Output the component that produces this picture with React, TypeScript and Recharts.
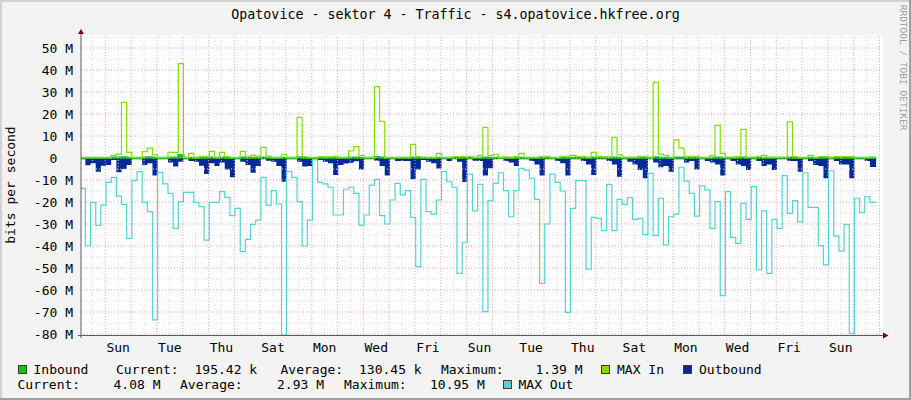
import React from 'react';
import { ComposedChart, Area, Line, XAxis, YAxis, ReferenceLine } from 'recharts';

const FONT = '"DejaVu Sans Mono", monospace';

// ---------- data (Mbit/s), one value per 0.2-day step ----------
const inbound = [
  0.10, 0.12, 0.15, 0.14, 0.10, 0.12, 0.18, 0.20, 0.35, 0.15, 0.10, 0.11, 0.22, 0.30, 0.14, 0.10, 0.10, 0.18, 0.20, 1.39,
  0.12, 0.16, 0.08, 0.12, 0.14, 0.20, 0.10, 0.18, 0.12, 0.10, 0.10, 0.20, 0.12, 0.14, 0.12, 0.25, 0.12, 0.10, 0.10, 0.14,
  0.10, 0.10, 0.30, 0.10, 0.10, 0.08, 0.09, 0.10, 0.10, 0.12, 0.10, 0.10, 0.20, 0.28, 0.12, 0.10, 0.10, 0.40, 0.25, 0.10,
  0.10, 0.10, 0.10, 0.10, 0.25, 0.10, 0.09, 0.06, 0.06, 0.15, 0.10, 0.10, 0.10, 0.10, 0.12, 0.12, 0.10, 0.12, 0.22, 0.12,
  0.14, 0.10, 0.10, 0.06, 0.10, 0.15, 0.10, 0.10, 0.10, 0.12, 0.12, 0.10, 0.10, 0.12, 0.12, 0.14, 0.10, 0.12, 0.10, 0.18,
  0.12, 0.10, 0.10, 0.20, 0.14, 0.10, 0.10, 0.10, 0.12, 0.12, 0.10, 0.35, 0.15, 0.14, 0.10, 0.22, 0.18, 0.12, 0.12, 0.12,
  0.10, 0.10, 0.14, 0.25, 0.16, 0.10, 0.10, 0.10, 0.22, 0.10, 0.10, 0.12, 0.14, 0.10, 0.10, 0.10, 0.10, 0.25, 0.10, 0.10,
  0.10, 0.14, 0.10, 0.10, 0.10, 0.10, 0.10, 0.10, 0.10, 0.10, 0.10, 0.10, 0.10, 0.195,
];

const maxIn = [
  0.2, 0.2, 0.2, 0.2, 0.2, 0.2, 1.2, 1.8, 25.3, 2.6,
  0.2, 0.2, 2.9, 4.5, 1.4, 0.2, 0.2, 2.6, 2.6, 42.9,
  0.2, 2.1, 0.1, 0.8, 0.8, 3.0, 0.2, 2.6, 0.6, 0.2,
  0.2, 3.0, 0.8, 1.2, 0.9, 4.8, 0.9, 0.2, 0.2, 1.7,
  0.2, 0.2, 18.5, 0.6, 0.2, 0.2, 0.5, 0.5, 0.5, 0.8,
  0.2, 0.2, 3.3, 5.2, 1.1, 0.2, 0.2, 32.4, 16.7, 0.2,
  0.2, 0.2, 0.2, 0.2, 6.2, 0.6, 0.3, 0.1, 0.1, 2.1,
  0.2, 0.2, 0.6, 0.6, 0.8, 0.8, 0.2, 1.2, 13.9, 1.1,
  1.7, 0.2, 0.5, 0.1, 0.6, 2.1, 0.2, 0.2, 0.2, 0.8,
  0.8, 0.2, 0.2, 0.8, 0.8, 1.2, 0.6, 0.8, 0.2, 2.6,
  0.8, 0.5, 0.5, 9.4, 1.4, 0.3, 0.3, 0.3, 0.8, 0.8,
  0.2, 34.4, 1.8, 1.2, 0.2, 8.2, 4.5, 0.8, 0.8, 0.8,
  0.2, 0.2, 1.2, 14.8, 2.1, 0.3, 0.3, 0.6, 13.0, 0.3,
  0.3, 0.8, 1.2, 0.3, 0.3, 0.3, 0.3, 16.4, 0.6, 0.2,
  0.2, 1.2, 0.2, 0.6, 0.6, 0.2, 0.6, 0.6, 0.6, 0.6,
  0.2, 0.2, 0.2, 0.2,
];

const outbound = [
  -0.6, -3.3, -2.4, -6.2, -3.5, -3.2, -0.9, -6.5, -5.0, -3.2,
  -0.6, -0.6, -3.2, -2.4, -8.0, -0.6, -0.6, -2.0, -3.9, -1.7,
  -0.6, -1.4, -1.7, -3.5, -7.3, -2.4, -3.6, -2.1, -5.2, -8.8,
  -0.6, -1.7, -3.2, -6.7, -3.6, -0.6, -1.2, -1.7, -3.6, -10.8,
  -0.6, -0.6, -1.7, -3.9, -3.6, -0.6, -0.9, -1.7, -2.4, -7.7,
  -3.2, -2.5, -2.2, -1.5, -5.2, -0.6, -0.6, -1.2, -3.6, -8.0,
  -0.6, -1.4, -1.4, -1.4, -9.7, -5.2, -0.9, -1.7, -2.4, -4.8,
  -0.6, -1.4, -0.6, -1.7, -10.9, -0.6, -1.2, -1.4, -7.9, -4.7,
  -0.6, -0.5, -1.4, -2.1, -3.6, -0.6, -0.6, -1.4, -2.9, -7.9,
  -0.6, -0.6, -1.4, -2.4, -7.9, -0.6, -0.6, -1.4, -2.9, -7.7,
  -0.6, -0.6, -1.4, -2.9, -8.5, -0.6, -1.7, -3.0, -5.5, -9.2,
  -0.6, -2.1, -4.2, -3.6, -6.2, -0.6, -0.6, -2.1, -1.4, -5.2,
  -0.6, -1.4, -2.1, -2.9, -7.9, -0.6, -1.4, -2.9, -3.6, -5.5,
  -0.6, -1.4, -3.6, -2.9, -5.5, -0.6, -0.6, -1.4, -1.4, -6.2,
  -0.6, -1.4, -3.2, -3.6, -9.2, -0.6, -1.4, -2.9, -2.9, -9.2,
  -0.6, -0.6, -1.4, -4.08,
];

const maxOut = [
  -13.8, -40.0, -20.2, -30.6, -21.4, -11.1, -8.8, -17.3, -21.1, -36.5,
  -10.3, -6.2, -20.2, -24.4, -73.6, -6.5, -11.8, -16.1, -32.0, -19.8,
  -15.6, -15.6, -20.2, -22.1, -37.3, -20.2, -20.2, -15.3, -17.9, -26.2,
  -22.9, -42.6, -37.0, -30.2, -28.2, -8.8, -21.4, -14.8, -20.9, -80.5,
  -6.2, -8.8, -19.8, -40.0, -28.2, -0.9, -11.1, -11.8, -13.3, -25.9,
  -25.9, -14.2, -13.3, -16.1, -30.5, -25.9, -12.3, -9.7, -26.2, -30.0,
  -19.1, -11.5, -16.8, -14.8, -27.0, -49.4, -9.7, -24.4, -25.5, -19.1,
  -6.2, -10.8, -13.3, -52.4, -38.3, -7.3, -24.0, -12.0, -69.8, -19.4,
  -11.5, -6.7, -14.8, -26.7, -14.8, -4.7, -5.5, -9.2, -18.8, -57.0,
  -30.0, -7.3, -11.1, -15.0, -70.2, -22.9, -10.3, -10.3, -50.5, -27.0,
  -27.4, -33.0, -12.0, -33.0, -18.8, -21.1, -18.0, -27.9, -27.4, -34.7,
  -7.0, -35.3, -18.3, -39.5, -26.7, -25.5, -4.2, -10.5, -16.1, -26.4,
  -12.7, -14.5, -32.0, -19.8, -62.6, -15.3, -36.1, -38.8, -20.6, -27.9,
  -13.0, -50.9, -24.0, -52.4, -27.9, -32.0, -8.0, -25.2, -19.4, -29.0,
  -6.7, -22.4, -22.4, -39.8, -48.6, -5.8, -35.5, -42.3, -30.2, -79.7,
  -18.3, -24.7, -17.6, -20.2,
];

const dayLabels = ['Sun', 'Tue', 'Thu', 'Sat', 'Mon', 'Wed', 'Fri', 'Sun', 'Tue', 'Thu', 'Sat', 'Mon', 'Wed', 'Fri', 'Sun'];
const yTickValues = [50, 40, 30, 20, 10, 0, -10, -20, -30, -40, -50, -60, -70, -80];
const yMinorValues = [55, 45, 35, 25, 15, 5, -5, -15, -25, -35, -45, -55, -65, -75];

const statLabels = ['Current:', 'Average:', 'Maximum:'];
const inboundStats = ['195.42 k', '130.45 k', '1.39 M'];
const outboundStats = ['4.08 M', '2.93 M', '10.95 M'];
const seriesNames = ['Inbound', 'MAX In', 'Outbound', 'MAX Out'];
const TITLE = 'Opatovice - sektor 4 - Traffic - s4.opatovice.hkfree.org';

// ---------- time axis (days from left edge of graph) ----------
const SPAN_DAYS = 31;
const FIRST_MIDNIGHT = 0.942;
const STEP = 0.2;
const FIRST_STEP = 0.17;
const END_T = 30.81;

const COLORS = {
  inbound: '#00CC00',
  maxIn: '#7FE000',
  outbound: '#002A97',
  maxOut: '#50D4D4',
};

const data = inbound.map((v, k) => ({
  t: k === 0 ? 0 : FIRST_STEP + STEP * (k - 1),
  inb: v,
  maxIn: maxIn[k],
  out: outbound[k],
  maxOut: maxOut[k],
}));
data.push({ ...data[data.length - 1], t: END_T });

const labelTicks = dayLabels.map((_, i) => FIRST_MIDNIGHT + 0.5 + 2 * i);
const majorX = Array.from({ length: 31 }, (_, i) => FIRST_MIDNIGHT + i);
const minorX = Array.from({ length: 31 }, (_, i) => FIRST_MIDNIGHT - 0.5 + i);

const XTick = (props: any) => {
  const { x, payload } = props;
  const idx = Math.round((payload.value - FIRST_MIDNIGHT - 0.5) / 2);
  return (
    <text x={x} y={352} textAnchor="middle" fontFamily={FONT} fontSize={13} fill="#000">
      {dayLabels[idx]}
    </text>
  );
};

const YTick = (props: any) => {
  const { y, payload } = props;
  const v = payload.value;
  return (
    <text x={v === 0 ? 57.3 : 73} y={y} dy={4.7} textAnchor="end" fontFamily={FONT} fontSize={13} fill="#000">
      {v === 0 ? '0' : `${v} M`}
    </text>
  );
};

const Box = ({ x, y, color }: { x: number; y: number; color: string }) => (
  <rect x={x} y={y} width={8} height={8} fill={color} stroke="#3a3a3a" strokeWidth={1} />
);

export default function App() {
  const t = { fontFamily: FONT, fontSize: 13, fill: '#000' } as const;
  return (
    <div style={{ position: 'absolute', left: 0, top: 0, width: 911, height: 400, background: '#F3F3F3', overflow: 'hidden' }}>
      <div style={{ position: 'absolute', left: 81, top: 35, width: 802, height: 300, background: '#FFFFFF' }} />
      <div style={{ position: 'absolute', left: 0, top: 0 }}>
        <ComposedChart
          width={911}
          height={400}
          data={data}
          margin={{ top: 34.8, right: 30, bottom: 34.9, left: 6 }}
        >
          <XAxis
            dataKey="t"
            type="number"
            domain={[0, SPAN_DAYS]}
            ticks={labelTicks}
            interval={0}
            allowDataOverflow
            axisLine={false}
            tickLine={false}
            height={30}
            tick={(p: any) => <XTick {...p} />}
          />
          <YAxis
            type="number"
            domain={[-80.5, 56]}
            ticks={yTickValues}
            interval={0}
            allowDataOverflow
            axisLine={false}
            tickLine={false}
            width={75}
            tick={(p: any) => <YTick {...p} />}
          />
          {minorX.map((v) => (
            <ReferenceLine key={'mx' + v} x={v} stroke="#d6d6d6" strokeDasharray="1 2" />
          ))}
          {yMinorValues.map((v) => (
            <ReferenceLine key={'my' + v} y={v} stroke="#d6d6d6" strokeDasharray="1 2" />
          ))}
          {majorX.map((v) => (
            <ReferenceLine key={'Mx' + v} x={v} stroke="#f4a0a0" strokeDasharray="1 2" />
          ))}
          {yTickValues.map((v) => (
            <ReferenceLine key={'My' + v} y={v} stroke="#f4a0a0" strokeDasharray="1 2" />
          ))}
          <Area
            dataKey="out"
            type="stepAfter"
            baseValue={0}
            fill={COLORS.outbound}
            fillOpacity={1}
            stroke="none"
            isAnimationActive={false}
            dot={false}
            activeDot={false}
          />
          <Line
            dataKey="maxIn"
            type="stepAfter"
            stroke={COLORS.maxIn}
            strokeWidth={1.2}
            dot={false}
            activeDot={false}
            isAnimationActive={false}
          />
          <Area
            dataKey="inb"
            type="stepAfter"
            baseValue={0}
            fill={COLORS.inbound}
            fillOpacity={1}
            stroke={COLORS.inbound}
            strokeWidth={2}
            isAnimationActive={false}
            dot={false}
            activeDot={false}
          />
          <Line
            dataKey="maxOut"
            type="stepAfter"
            stroke={COLORS.maxOut}
            strokeWidth={1.2}
            dot={false}
            activeDot={false}
            isAnimationActive={false}
          />
        </ComposedChart>
      </div>
      <svg width={911} height={400} style={{ position: 'absolute', left: 0, top: 0, pointerEvents: 'none' }}>
        {/* frame */}
        <rect x={0} y={0} width={911} height={2} fill="#D2D2D2" />
        <rect x={0} y={0} width={2} height={400} fill="#D2D2D2" />
        <rect x={909} y={0} width={2} height={400} fill="#A0A0A0" />
        <rect x={0} y={398} width={911} height={2} fill="#A0A0A0" />
        {/* axes */}
        <line x1={81} y1={31} x2={81} y2={338} stroke="#5a5a5a" strokeWidth={1} />
        <line x1={78} y1={335.5} x2={884} y2={335.5} stroke="#5a5a5a" strokeWidth={1} />
        <polygon points="78,34 84,34 81,29" fill="#800000" />
        <polygon points="883,332.5 883,338.5 888.5,335.5" fill="#800000" />
        {/* title */}
        <text x={455.5} y={19} textAnchor="middle" fontFamily={FONT} fontSize={13.3} fill="#000">
          {TITLE}
        </text>
        {/* vertical label */}
        <text transform="translate(15,185) rotate(-90)" textAnchor="middle" {...t}>
          bits per second
        </text>
        {/* watermark */}
        <text transform="translate(899.5,4.7) rotate(90)" fontFamily={FONT} fontSize={9.5} fill="#9C9C9C">
          RRDTOOL / TOBI OETIKER
        </text>
        {/* legend line 1 */}
        <Box x={18.5} y={365.5} color={COLORS.inbound} />
        <text x={33.5} y={373.5} {...t}>{seriesNames[0]}</text>
        <text x={116} y={373.5} {...t}>{statLabels[0]}</text>
        <text x={194.5} y={373.5} {...t}>{inboundStats[0]}</text>
        <text x={280.5} y={373.5} {...t}>{statLabels[1]}</text>
        <text x={359} y={373.5} {...t}>{inboundStats[1]}</text>
        <text x={441} y={373.5} {...t}>{statLabels[2]}</text>
        <text x={535.5} y={373.5} {...t}>{inboundStats[2]}</text>
        <Box x={601.5} y={365.5} color={COLORS.maxIn} />
        <text x={617} y={373.5} {...t}>{seriesNames[1]}</text>
        <Box x={683.5} y={365.5} color={COLORS.outbound} />
        <text x={699} y={373.5} {...t}>{seriesNames[2]}</text>
        {/* legend line 2 */}
        <text x={17.5} y={388.5} {...t}>{statLabels[0]}</text>
        <text x={113.5} y={388.5} {...t}>{outboundStats[0]}</text>
        <text x={180} y={388.5} {...t}>{statLabels[1]}</text>
        <text x={277} y={388.5} {...t}>{outboundStats[1]}</text>
        <text x={344} y={388.5} {...t}>{statLabels[2]}</text>
        <text x={430} y={388.5} {...t}>{outboundStats[2]}</text>
        <Box x={503.5} y={380.5} color={COLORS.maxOut} />
        <text x={518.5} y={388.5} {...t}>{seriesNames[3]}</text>
      </svg>
    </div>
  );
}
